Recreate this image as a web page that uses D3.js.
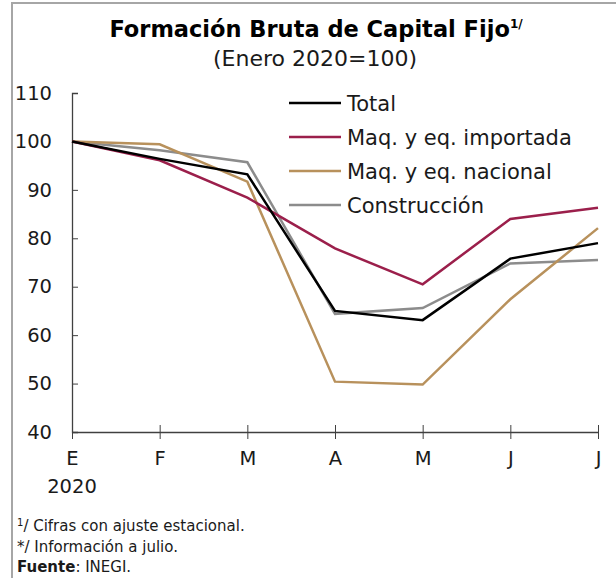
<!DOCTYPE html>
<html>
<head>
<meta charset="utf-8">
<script src="https://cdn.jsdelivr.net/npm/d3@7"></script>
<style>
  body { margin: 0; background: #fff; }
  svg { display: block; font-family: "DejaVu Sans", sans-serif; }
</style>
</head>
<body>
<div id="chart"></div>
<script>
const months = ["E", "F", "M", "A", "M", "J", "J"];
const total = [100, 96.4, 93.2, 65.0, 63.1, 75.8, 79.0];
const importada = [100, 96.1, 88.4, 77.9, 70.5, 84.0, 86.3];
const nacional = [100, 99.4, 91.7, 50.4, 49.8, 67.4, 82.1];
const construccion = [100, 98.2, 95.7, 64.4, 65.6, 74.8, 75.5];
const yTicks = [40, 50, 60, 70, 80, 90, 100, 110];

const series = [
  { name: "Total", values: total, color: "#000000" },
  { name: "Maq. y eq. importada", values: importada, color: "#9b1f4b" },
  { name: "Maq. y eq. nacional", values: nacional, color: "#b8915c" },
  { name: "Construcción", values: construccion, color: "#8c8c8c" }
];

const width = 616, height = 578;
const margin = { top: 93, right: 18, bottom: 146, left: 72 };

const svg = d3.select("#chart").append("svg")
  .attr("width", width)
  .attr("height", height);

// frame
svg.append("path")
  .attr("d", "M12,578 V3 H616")
  .attr("fill", "none")
  .attr("stroke", "#a6a6a6")
  .attr("stroke-width", 2);

// title
const title = svg.append("text")
  .attr("x", 316).attr("y", 37)
  .attr("text-anchor", "middle")
  .style("font-size", "22.5px")
  .style("font-weight", "bold")
  .text("Formación Bruta de Capital Fijo");
title.append("tspan")
  .attr("dy", -9)
  .style("font-size", "12px")
  .text("1/");

svg.append("text")
  .attr("x", 315).attr("y", 66)
  .attr("text-anchor", "middle")
  .style("font-size", "22px")
  .attr("fill", "#1a1a1a")
  .text("(Enero 2020=100)");

const x = d3.scalePoint()
  .domain(d3.range(months.length))
  .range([margin.left, width - margin.right]);

const y = d3.scaleLinear()
  .domain([40, 110])
  .range([height - margin.bottom, margin.top]);

// y axis
const yAxis = svg.append("g")
  .attr("transform", `translate(${margin.left},0)`)
  .call(d3.axisRight(y).tickValues(yTicks).tickSize(6).tickFormat(d3.format("d")));
yAxis.select(".domain").attr("stroke", "#404040").attr("stroke-width", 1.3);
yAxis.selectAll(".tick line").attr("stroke", "#404040");
yAxis.selectAll(".tick text")
  .attr("x", -20)
  .attr("text-anchor", "end")
  .attr("fill", "#1a1a1a")
  .style("font-size", "19.5px")
  .style("font-family", "DejaVu Sans, sans-serif");

// x axis
const xAxis = svg.append("g")
  .attr("transform", `translate(0,${height - margin.bottom})`)
  .call(d3.axisBottom(x).tickSize(7).tickSizeOuter(0).tickFormat(i => months[i]));
xAxis.select(".domain").attr("stroke", "#404040").attr("stroke-width", 1.3);
xAxis.selectAll(".tick line").attr("stroke", "#404040").attr("y1", -7);
xAxis.selectAll(".tick text")
  .attr("y", 19)
  .attr("fill", "#1a1a1a")
  .style("font-size", "19.5px")
  .style("font-family", "DejaVu Sans, sans-serif");

svg.append("text")
  .attr("x", x(0)).attr("y", 493)
  .attr("text-anchor", "middle")
  .style("font-size", "19.5px")
  .attr("fill", "#1a1a1a")
  .text("2020");

// lines
const line = d3.line()
  .x((d, i) => x(i))
  .y(d => y(d));

svg.selectAll(".series")
  .data(series.slice().reverse())
  .join("path")
  .attr("class", "series")
  .attr("d", d => line(d.values))
  .attr("fill", "none")
  .attr("stroke", d => d.color)
  .attr("stroke-width", 2.5)
  .attr("stroke-linejoin", "miter");

// legend
const legend = svg.append("g").attr("transform", "translate(289,103)");
series.forEach((s, i) => {
  const g = legend.append("g").attr("transform", `translate(0,${i * 34})`);
  g.append("line")
    .attr("x1", 0).attr("x2", 52)
    .attr("stroke", s.color)
    .attr("stroke-width", 2.5);
  g.append("text")
    .attr("x", 58).attr("y", 7.5)
    .style("font-size", "21px")
    .attr("fill", "#1a1a1a")
    .text(s.name);
});

// footnotes
const notes = svg.append("g").style("font-size", "15px").attr("fill", "#1a1a1a");
const n1 = notes.append("text").attr("x", 17).attr("y", 531);
n1.append("tspan").attr("dy", -5).style("font-size", "10px").text("1");
n1.append("tspan").attr("dy", 5).text("/ Cifras con ajuste estacional.");
notes.append("text").attr("x", 17).attr("y", 552).text("*/ Información a julio.");
const n3 = notes.append("text").attr("x", 17).attr("y", 572);
n3.append("tspan").style("font-weight", "bold").text("Fuente");
n3.append("tspan").text(": INEGI.");
</script>
</body>
</html>
